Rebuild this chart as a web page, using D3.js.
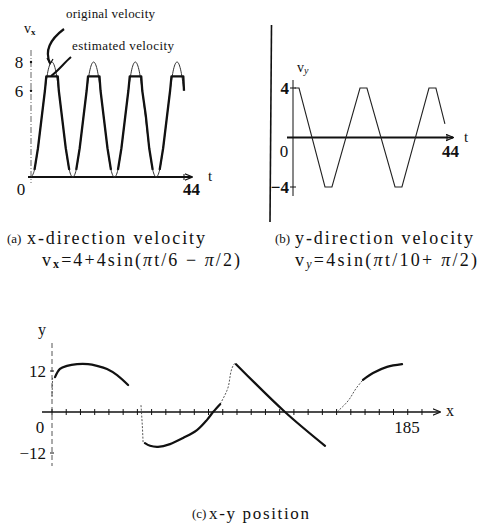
<!DOCTYPE html>
<html>
<head>
<meta charset="utf-8">
<script src="https://cdn.jsdelivr.net/npm/d3@7"></script>
<style>
  html, body { margin: 0; padding: 0; background: #fff; }
  svg text { font-family: "Liberation Serif", "DejaVu Serif", serif; fill: #111; }
</style>
</head>
<body>
<svg id="chart" width="492" height="527"></svg>
<script>
// (a) x-direction velocity, read at t = 0..44
const vxOriginal = [0, 0.5, 2, 4, 6, 7.5, 8, 7.5, 6, 4, 2, 0.5,
                    0, 0.5, 2, 4, 6, 7.5, 8, 7.5, 6, 4, 2, 0.5,
                    0, 0.5, 2, 4, 6, 7.5, 8, 7.5, 6, 4, 2, 0.5,
                    0, 0.5, 2, 4, 6, 7.5, 8, 7.5, 6];
// estimated velocity (flat near 7), null = gap
const estT = [1, 2, 3, 4, 4.4, 7.7, 8, 9, 10, 11, null,
              13, 14, 15, 16, 16.4, 19.7, 20, 21, 22, 23, null,
              25, 26, 27, 28, 28.4, 31.7, 32, 33, 34, 35, null,
              37, 38, 39, 40, 40.4, 43.8, 44];
const estV = [0.5, 2, 4, 6, 7, 7, 6, 4, 2, 0.5, null,
              0.5, 2, 4, 6, 7, 7, 6, 4, 2, 0.5, null,
              0.5, 2, 4, 6, 7, 7, 6, 4.3, 2, 0.5, null,
              0.5, 2, 4, 6, 7, 7, 6];

// (b) y-direction velocity, vertices
const tB = [0, 1.3, 8.8, 10.8, 18.9, 20.9, 29.0, 31.0, 38.8, 40.8, 43.4];
const vyB = [4, 4, -4, -4, 4, 4, -4, -4, 4, 4, 1.1];

// (c) x-y position: bold (estimated) and thin (original) pieces, null = gap
const posBoldX = [1.6, 4.2, 7.9, 13.2, 19.0, 23.7, 29.0, 34.3, 40.1, null,
                  49.0, 51.7, 55.9, 62.2, 69.1, 76.4, 81.7, 84.9, 88.6, null,
                  97.0, 122.8, 143.9, null,
                  163.9, 169.2, 176.6, 184.5];
const posBoldY = [10.2, 12.6, 13.5, 14.0, 14.0, 13.5, 12.6, 10.8, 7.9, null,
                  -9.1, -9.9, -10.2, -9.4, -7.6, -5.3, -2.3, 0, 2.3, null,
                  14.0, 0, -9.9, null,
                  9.4, 11.4, 13.2, 14.0];
const posThinX = [0, 0.3, null, 46.9, 47.6, 48.0, null, 88.6, 92.3, 95.4, 96.5, null,
                  150.2, 155.5, 160.8, 163.9];
const posThinY = [4.4, 10.0, null, 2.0, -4, -8.8, null, 2.3, 6.4, 13.5, 14.3, null,
                  0, 2.9, 7.3, 9.4];

const ticksA = [8, 6];
const ticksB = [4, -4];
const ticksCy = [12, -12];
const ticksCx = [0, 7.5, 15, 22.5, 30, 37.5, 45, 52.5, 60, 67.5, 75, 82.5, 90, 97.5, 105,
                 112.5, 120, 127.5, 135, 142.5, 150, 157.5, 165, 172.5, 180, 187.5, 195];

const svg = d3.select('#chart');

svg.append('defs').append('marker')
    .attr('id', 'arrow')
    .attr('viewBox', '0 0 10 10')
    .attr('refX', 9).attr('refY', 5)
    .attr('markerWidth', 8).attr('markerHeight', 8)
    .attr('markerUnits', 'userSpaceOnUse')
    .attr('orient', 'auto')
    .append('path')
    .attr('d', 'M0,1 L10,5 L0,9')
    .attr('fill', 'none')
    .attr('stroke', '#111')
    .attr('stroke-width', 1.4);

// ---------- panel (a) ----------
const xA = d3.scaleLinear().domain([0, 44]).range([31, 184]);
const yA = d3.scaleLinear().domain([0, 8]).range([177, 62]);
const gA = svg.append('g');

gA.append('line')
    .attr('x1', 31).attr('x2', 31).attr('y1', 50).attr('y2', 183)
    .attr('stroke', '#666').attr('stroke-width', 1)
    .attr('stroke-dasharray', '6,2,1,2');

gA.append('line')
    .attr('x1', 28).attr('x2', 192).attr('y1', yA(0)).attr('y2', yA(0))
    .attr('stroke', '#111').attr('stroke-width', 2)
    .attr('marker-end', 'url(#arrow)');
gA.append('line')
    .attr('x1', xA(44)).attr('x2', xA(44)).attr('y1', yA(0) - 3).attr('y2', yA(0) + 3)
    .attr('stroke', '#111');

ticksA.forEach(d => {
    gA.append('circle').attr('cx', 31).attr('cy', yA(d)).attr('r', 1.2).attr('fill', '#111');
    gA.append('text').attr('x', 19).attr('y', yA(d) + 6)
        .attr('text-anchor', 'middle').style('font-size', '17px').text(d);
});

gA.append('path')
    .datum(vxOriginal)
    .attr('fill', 'none').attr('stroke', '#333').attr('stroke-width', 1)
    .attr('d', d3.line().x((d, i) => xA(i)).y(d => yA(d)).curve(d3.curveMonotoneX));

gA.append('path')
    .datum(estT.map((t, i) => [t, estV[i]]))
    .attr('fill', 'none').attr('stroke', '#111').attr('stroke-width', 2.3)
    .attr('stroke-linejoin', 'round')
    .attr('d', d3.line().defined(d => d[0] !== null).x(d => xA(d[0])).y(d => yA(d[1])));

const vxLabel = gA.append('text').attr('x', 24).attr('y', 33).style('font-size', '14px');
vxLabel.append('tspan').text('v');
vxLabel.append('tspan').attr('dy', 2).style('font-size', '9px').style('font-weight', 'bold').text('x');

gA.append('text').attr('x', 21).attr('y', yA(0) + 18).attr('text-anchor', 'middle')
    .style('font-size', '17px').text('0');
gA.append('text').attr('x', xA(44) - 1).attr('y', yA(0) + 18)
    .style('font-size', '17px').style('font-weight', 'bold').text('44');
gA.append('text').attr('x', 210).attr('y', yA(0) + 4).attr('text-anchor', 'middle')
    .style('font-size', '15px').text('t');

gA.append('text').attr('x', 66).attr('y', 18).attr('textLength', 89)
    .style('font-size', '13px').text('original velocity');
gA.append('text').attr('x', 72).attr('y', 50).attr('textLength', 102)
    .style('font-size', '13px').text('estimated velocity');

gA.append('path').attr('d', 'M64,29 C52,38 44,50 50,63')
    .attr('fill', 'none').attr('stroke', '#111').attr('stroke-width', 2.2);
gA.append('path').attr('d', 'M47,58 L50,64 L53,59')
    .attr('fill', 'none').attr('stroke', '#111').attr('stroke-width', 1.2);
gA.append('path').attr('d', 'M71,57 C64,63 58,71 51,76')
    .attr('fill', 'none').attr('stroke', '#111').attr('stroke-width', 2);

// separator
svg.append('line')
    .attr('x1', 271.5).attr('x2', 270).attr('y1', 25).attr('y2', 222)
    .attr('stroke', '#111').attr('stroke-width', 1.6);

// ---------- panel (b) ----------
const xB = d3.scaleLinear().domain([0, 44]).range([294.5, 447]);
const yB = d3.scaleLinear().domain([-4, 4]).range([187, 88]);
const gB = svg.append('g');

gB.append('line')
    .attr('x1', 293).attr('x2', 293).attr('y1', 80).attr('y2', 196)
    .attr('stroke', '#111').attr('stroke-width', 1);
gB.append('line')
    .attr('x1', 287).attr('x2', 453).attr('y1', yB(0)).attr('y2', yB(0))
    .attr('stroke', '#111').attr('stroke-width', 2)
    .attr('marker-end', 'url(#arrow)');
gB.append('line')
    .attr('x1', xB(44)).attr('x2', xB(44)).attr('y1', yB(0) - 3).attr('y2', yB(0) + 3)
    .attr('stroke', '#111');

ticksB.forEach(d => {
    gB.append('line').attr('x1', 290).attr('x2', 296).attr('y1', yB(d)).attr('y2', yB(d))
        .attr('stroke', '#111');
    gB.append('text').attr('x', 289).attr('y', yB(d) + 6)
        .attr('text-anchor', 'end').style('font-size', '17px').style('font-weight', 'bold')
        .text(d < 0 ? '\u2212' + Math.abs(d) : d);
});
gB.append('text').attr('x', 284).attr('y', yB(0) + 19).attr('text-anchor', 'middle')
    .style('font-size', '17px').text('0');
gB.append('text').attr('x', xB(44) - 5).attr('y', yB(0) + 19)
    .style('font-size', '17px').style('font-weight', 'bold').text('44');
gB.append('text').attr('x', 466).attr('y', yB(0) + 4).attr('text-anchor', 'middle')
    .style('font-size', '15px').text('t');

const vyLabel = gB.append('text').attr('x', 297).attr('y', 72).style('font-size', '14px');
vyLabel.append('tspan').text('v');
vyLabel.append('tspan').attr('dy', 2).style('font-size', '10px').style('font-style', 'italic').text('y');

gB.append('path')
    .datum(tB.map((t, i) => [t, vyB[i]]))
    .attr('fill', 'none').attr('stroke', '#222').attr('stroke-width', 1.1)
    .attr('d', d3.line().x(d => xB(d[0])).y(d => yB(d[1])));

// ---------- captions (a) (b) ----------
svg.append('text').attr('x', 7).attr('y', 243).style('font-size', '13px').text('(a)');
svg.append('text').attr('x', 27).attr('y', 244).attr('textLength', 178)
    .style('font-size', '18px').text('x-direction velocity');
const fA = svg.append('text').attr('x', 42).attr('y', 266).attr('textLength', 198)
    .style('font-size', '18px');
fA.append('tspan').text('v');
fA.append('tspan').attr('dy', 2).style('font-size', '12px').style('font-weight', 'bold').text('x');
fA.append('tspan').attr('dy', -2).text('=4+4sin(');
fA.append('tspan').style('font-style', 'italic').text('\u03c0');
fA.append('tspan').text('t/6 \u2212 ');
fA.append('tspan').style('font-style', 'italic').text('\u03c0');
fA.append('tspan').text('/2)');

svg.append('text').attr('x', 275).attr('y', 243).style('font-size', '13px').text('(b)');
svg.append('text').attr('x', 295).attr('y', 244).attr('textLength', 178)
    .style('font-size', '18px').text('y-direction velocity');
const fB = svg.append('text').attr('x', 295).attr('y', 266).attr('textLength', 182)
    .style('font-size', '18px');
fB.append('tspan').text('v');
fB.append('tspan').attr('dy', 2).style('font-size', '12px').style('font-style', 'italic').text('y');
fB.append('tspan').attr('dy', -2).text('=4sin(');
fB.append('tspan').style('font-style', 'italic').text('\u03c0');
fB.append('tspan').text('t/10+ ');
fB.append('tspan').style('font-style', 'italic').text('\u03c0');
fB.append('tspan').text('/2)');

// ---------- panel (c) ----------
const xC = d3.scaleLinear().domain([0, 185]).range([52, 403]);
const yC = d3.scaleLinear().domain([-12, 12]).range([453, 371]);
const gC = svg.append('g');

gC.append('line')
    .attr('x1', 52).attr('x2', 52).attr('y1', 343).attr('y2', 466)
    .attr('stroke', '#555').attr('stroke-width', 1)
    .attr('stroke-dasharray', '5,3');
gC.append('line')
    .attr('x1', 42).attr('x2', 440).attr('y1', yC(0)).attr('y2', yC(0))
    .attr('stroke', '#111').attr('stroke-width', 1.6)
    .attr('marker-end', 'url(#arrow)');

gC.selectAll('line.xt').data(ticksCx).join('line')
    .attr('class', 'xt')
    .attr('x1', d => xC(d)).attr('x2', d => xC(d))
    .attr('y1', yC(0) - 3).attr('y2', yC(0) + 3)
    .attr('stroke', '#111').attr('stroke-width', 1);

ticksCy.forEach(d => {
    gC.append('line').attr('x1', 50).attr('x2', 54).attr('y1', yC(d)).attr('y2', yC(d))
        .attr('stroke', '#111');
    gC.append('text').attr('x', 46).attr('y', yC(d) + 6)
        .attr('text-anchor', 'end').style('font-size', '17px')
        .text(d < 0 ? '\u2212' + Math.abs(d) : d);
});
gC.append('text').attr('x', 40).attr('y', yC(0) + 21).attr('text-anchor', 'middle')
    .style('font-size', '17px').text('0');
gC.append('text').attr('x', xC(185) + 4).attr('y', yC(0) + 21).attr('text-anchor', 'middle')
    .style('font-size', '17px').text('185');
gC.append('text').attr('x', 42).attr('y', 335).attr('text-anchor', 'middle')
    .style('font-size', '16px').text('y');
gC.append('text').attr('x', 450).attr('y', yC(0) + 4).attr('text-anchor', 'middle')
    .style('font-size', '16px').text('x');

gC.append('path')
    .datum(posThinX.map((x, i) => [x, posThinY[i]]))
    .attr('fill', 'none').attr('stroke', '#444').attr('stroke-width', 0.9)
    .attr('stroke-dasharray', '2,1.5')
    .attr('d', d3.line().defined(d => d[0] !== null).x(d => xC(d[0])).y(d => yC(d[1]))
        .curve(d3.curveMonotoneY));

gC.append('path')
    .datum(posBoldX.map((x, i) => [x, posBoldY[i]]))
    .attr('fill', 'none').attr('stroke', '#111').attr('stroke-width', 2.2)
    .attr('stroke-linecap', 'round')
    .attr('d', d3.line().defined(d => d[0] !== null).x(d => xC(d[0])).y(d => yC(d[1]))
        .curve(d3.curveCatmullRom));

svg.append('text').attr('x', 192).attr('y', 518).style('font-size', '13px').text('(c)');
svg.append('text').attr('x', 209).attr('y', 519).attr('textLength', 100)
    .style('font-size', '17px').text('x-y position');
</script>
</body>
</html>
